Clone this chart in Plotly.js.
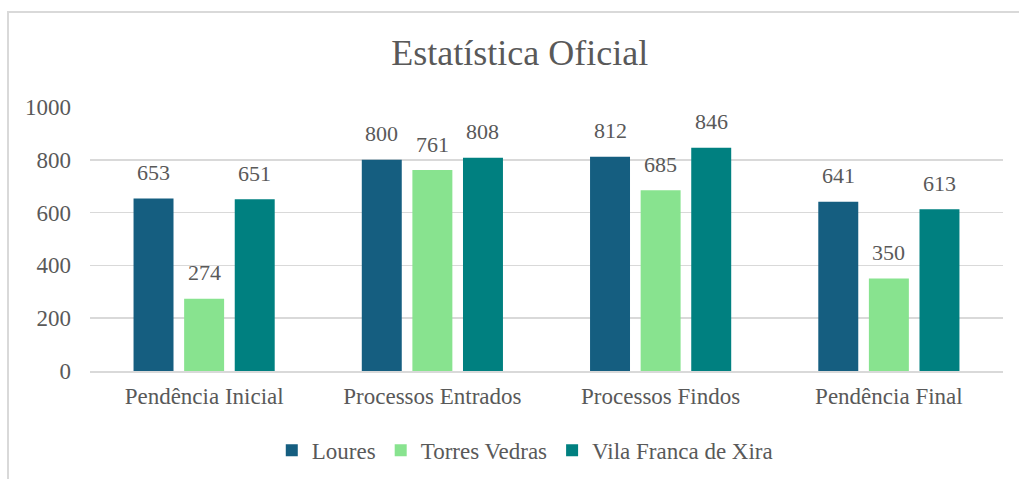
<!DOCTYPE html>
<html>
<head>
<meta charset="utf-8">
<script src="https://cdn.plot.ly/plotly-3.0.1.min.js"></script>
<style>
html,body{margin:0;padding:0;background:#fff;overflow:hidden;}
#frame{position:absolute;left:7px;top:11px;width:1100px;height:600px;border:2px solid #d9d9d9;box-sizing:border-box;}
#chart{position:absolute;left:0;top:0;width:1019px;height:479px;}
</style>
</head>
<body>
<div id="frame"></div>
<div id="chart"></div>
<script>
const categories = ["Pendência Inicial", "Processos Entrados", "Processos Findos", "Pendência Final"];
const seriesNames = ["Loures", "Torres Vedras", "Vila Franca de Xira"];
const loures = [653, 800, 812, 641];
const torresVedras = [274, 761, 685, 350];
const vilaFranca = [651, 808, 846, 613];
const yTicks = [0, 200, 400, 600, 800, 1000];

const colors = ["#155E80", "#88E38F", "#008080"];
const values = [loures, torresVedras, vilaFranca];
const fontFam = "'Liberation Serif', 'DejaVu Serif', serif";
const txt = "#595959";

const traces = values.map((v, i) => ({
  type: "bar",
  name: seriesNames[i],
  x: categories,
  y: v,
  marker: {color: colors[i]},
  hoverinfo: "y"
}));

const slot = 0.2215;
const annotations = [];
values.forEach((v, i) => {
  v.forEach((val, j) => {
    annotations.push({
      x: j + (i - 1) * slot,
      y: val,
      xref: "x", yref: "y",
      text: String(val),
      showarrow: false,
      yanchor: "middle",
      yshift: 26,
      font: {family: fontFam, size: 22, color: txt}
    });
  });
});

const layout = {
  width: 1019, height: 479,
  margin: {l: 90, r: 16, t: 107, b: 108},
  paper_bgcolor: "rgba(0,0,0,0)",
  plot_bgcolor: "rgba(0,0,0,0)",
  barmode: "group",
  bargap: 0.335,
  bargroupgap: 0.21,
  showlegend: true,
  title: {text: "Estatística Oficial", x: 0.51, xref: "container", y: 0.89, yref: "container", yanchor: "middle",
          font: {family: fontFam, size: 36, color: txt}},
  xaxis: {
    type: "category",
    tickfont: {family: fontFam, size: 23, color: txt},
    showgrid: false, zeroline: false,
    showline: true, linecolor: "#d9d9d9", linewidth: 1.5,
    ticks: "", ticklabelstandoff: 4
  },
  yaxis: {
    range: [0, 1000],
    tickvals: yTicks,
    ticktext: yTicks.map(String),
    tickfont: {family: fontFam, size: 23, color: txt},
    showgrid: true, gridcolor: "#d9d9d9", gridwidth: 1.5,
    zeroline: false, showline: false, ticks: "",
    ticklabelstandoff: 18
  },
  legend: {
    orientation: "h", xref: "container", yref: "container",
    x: 0.515, xanchor: "center", y: 0.06, yanchor: "middle",
    font: {family: fontFam, size: 23, color: txt},
    itemwidth: 30, traceorder: "normal"
  },
  annotations: annotations
};

Plotly.newPlot("chart", traces, layout, {displayModeBar: false, staticPlot: true});
</script>
</body>
</html>
